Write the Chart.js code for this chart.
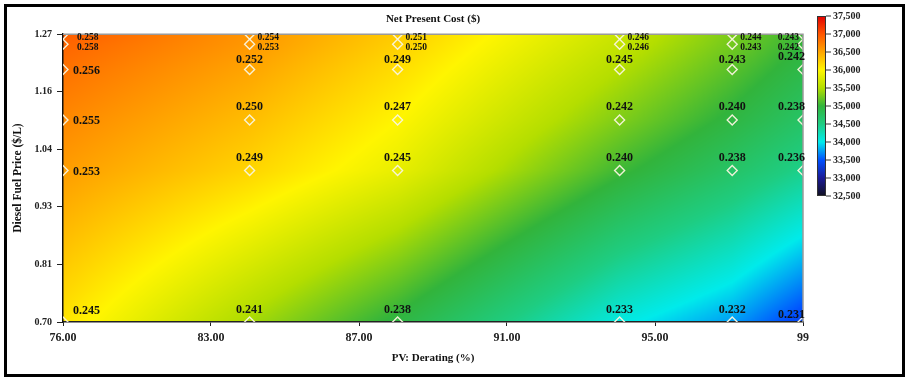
<!DOCTYPE html>
<html><head><meta charset="utf-8">
<script src="https://cdn.jsdelivr.net/npm/chart.js@4.4.0/dist/chart.umd.min.js"></script>
<style>html,body{margin:0;padding:0;background:#fff;}#wrap{width:906px;height:378px;}</style>
</head><body><div id="wrap"><canvas id="c" width="906" height="378"></canvas></div>
<script>
// ---- data ----
const deratingTickLabels = ["76.00", "83.00", "87.00", "91.00", "95.00", "99"];
const fuelTickLabels = ["0.70", "0.81", "0.93", "1.04", "1.16", "1.27"];
const derating = [76, 81.8, 86.4, 93.3, 96.8, 99];          // PV derating (%) of sensitivity columns
const fuelPrice = [0.70, 1.00, 1.10, 1.20, 1.25, 1.27];      // diesel price ($/L), rows
// COE labels per row (fuelPrice order), per column (derating order)
const coe070 = ["0.245", "0.241", "0.238", "0.233", "0.232", "0.231"];
const coe100 = ["0.253", "0.249", "0.245", "0.240", "0.238", "0.236"];
const coe110 = ["0.255", "0.250", "0.247", "0.242", "0.240", "0.238"];
const coe120 = ["0.256", "0.252", "0.249", "0.245", "0.243", "0.242"];
const coe125 = ["0.258", "0.253", "0.250", "0.246", "0.243", "0.242"];
const coe127 = ["0.258", "0.254", "0.251", "0.246", "0.244", "0.243"];
// Net present cost ($) at the same grid points
const npc070 = [36100, 35450, 34950, 34050, 33750, 33400];
const npc100 = [36550, 36200, 35850, 35050, 34700, 34450];
const npc110 = [36680, 36350, 36000, 35300, 34950, 34700];
const npc120 = [36820, 36500, 36150, 35500, 35150, 34900];
const npc125 = [36900, 36580, 36230, 35600, 35250, 35000];
const npc127 = [36950, 36600, 36260, 35640, 35280, 35030];
const colorbarTicks = [32500, 33000, 33500, 34000, 34500, 35000, 35500, 36000, 36500, 37000, 37500];

const coeRows = [coe070, coe100, coe110, coe120, coe125, coe127];
const npcRows = [npc070, npc100, npc110, npc120, npc125, npc127];

// ---- colour map ----
const cmapStops = [
  [32500, [16, 16, 32]], [33000, [26, 26, 150]], [33500, [0, 80, 255]], [34000, [0, 235, 235]],
  [34500, [30, 205, 130]], [35000, [50, 180, 60]], [35500, [180, 222, 0]], [36000, [255, 245, 0]],
  [36500, [255, 165, 0]], [37000, [255, 85, 0]], [37500, [225, 0, 0]]
];
function cmap(v) {
  if (v <= cmapStops[0][0]) return cmapStops[0][1];
  for (let i = 1; i < cmapStops.length; i++) {
    if (v <= cmapStops[i][0]) {
      const a = cmapStops[i - 1], b = cmapStops[i];
      const t = (v - a[0]) / (b[0] - a[0]);
      return [0, 1, 2].map(k => a[1][k] + t * (b[1][k] - a[1][k]));
    }
  }
  return cmapStops[cmapStops.length - 1][1];
}
function seg(arr, v) {
  let i = 0;
  while (i < arr.length - 2 && v > arr[i + 1]) i++;
  let t = (v - arr[i]) / (arr[i + 1] - arr[i]);
  return [i, Math.max(0, Math.min(1, t))];
}
function npcAt(xv, yv) {
  const [i, tx] = seg(derating, xv);
  const [j, ty] = seg(fuelPrice, yv);
  const a = npcRows[j][i], b = npcRows[j][i + 1], c = npcRows[j + 1][i], d = npcRows[j + 1][i + 1];
  const top = a + tx * (b - a), bot = c + tx * (d - c);
  return top + ty * (bot - top);
}

const SERIF = '"Liberation Serif", "Times New Roman", serif';
const points = [];
fuelPrice.forEach((fp, j) => derating.forEach((d, i) => points.push({ x: d, y: fp, i, j })));

const surfacePlugin = {
  id: 'surface',
  beforeDraw(chart) {
    const { ctx, chartArea: a, scales: { x, y } } = chart;
    ctx.save();
    ctx.fillStyle = '#fff';
    ctx.fillRect(0, 0, chart.width, chart.height);
    const w = Math.round(a.right - a.left), h = Math.round(a.bottom - a.top);
    const off = document.createElement('canvas');
    off.width = w; off.height = h;
    const octx = off.getContext('2d');
    const img = octx.createImageData(w, h);
    for (let py = 0; py < h; py++) {
      const yv = y.getValueForPixel(a.top + py + 0.5);
      for (let px = 0; px < w; px++) {
        const xv = x.getValueForPixel(a.left + px + 0.5);
        const c = cmap(npcAt(xv, yv));
        const k = (py * w + px) * 4;
        img.data[k] = c[0]; img.data[k + 1] = c[1]; img.data[k + 2] = c[2]; img.data[k + 3] = 255;
      }
    }
    octx.putImageData(img, 0, 0);
    ctx.drawImage(off, a.left, a.top);
    ctx.restore();
  },
  afterDatasetsDraw(chart) {
    const { ctx, chartArea: a, scales: { x, y } } = chart;
    ctx.save();
    // top / right frame of plot
    ctx.strokeStyle = '#9a9a9a';
    ctx.lineWidth = 1.5;
    ctx.beginPath();
    ctx.moveTo(a.left, a.top); ctx.lineTo(a.right, a.top); ctx.lineTo(a.right, a.bottom);
    ctx.stroke();
    // labels
    ctx.fillStyle = '#111';
    const last = derating.length - 1;
    points.forEach(p => {
      const px = x.getPixelForValue(p.x), py = y.getPixelForValue(p.y);
      const txt = coeRows[p.j][p.i];
      const topRows = p.j >= 4;
      ctx.font = 'bold ' + (topRows ? 9.5 : 12) + 'px ' + SERIF;
      ctx.textBaseline = 'middle';
      let tx, ty, al;
      if (topRows) {
        if (p.i === last) { al = 'right'; tx = px - 4; } else { al = 'left'; tx = px + (p.i === 0 ? 14 : 8); }
        ty = py + 3;
      } else if (p.i === 0) {
        al = 'left'; tx = px + 10; ty = p.j === 0 ? py - 11 : py + 1;
      } else if (p.i === last) {
        al = 'right'; tx = px + 2; ty = p.j === 0 ? py - 7 : py - 13;
      } else {
        al = 'center'; tx = px; ty = p.j === 0 ? py - 12 : (p.j === 3 ? py - 10 : py - 13);
      }
      ctx.textAlign = al;
      ctx.fillText(txt, tx, ty);
    });
    ctx.restore();
  },
  afterDraw(chart) {
    const { ctx } = chart;
    ctx.save();
    // colour bar
    const bx = 817, bw = 9, yTop = 16, yBot = 196;
    const vmin = colorbarTicks[0], vmax = colorbarTicks[colorbarTicks.length - 1];
    const g = ctx.createLinearGradient(0, yBot, 0, yTop);
    cmapStops.forEach(s => {
      const c = s[1];
      g.addColorStop((s[0] - vmin) / (vmax - vmin), 'rgb(' + c.map(Math.round).join(',') + ')');
    });
    ctx.fillStyle = g;
    ctx.fillRect(bx, yTop, bw, yBot - yTop);
    ctx.strokeStyle = '#333';
    ctx.lineWidth = 1;
    ctx.strokeRect(bx + 0.5, yTop + 0.5, bw - 1, yBot - yTop - 1);
    ctx.font = 'bold 10px ' + SERIF;
    ctx.fillStyle = '#222';
    ctx.textAlign = 'left';
    ctx.textBaseline = 'middle';
    colorbarTicks.forEach(v => {
      const ty = yBot - (v - vmin) / (vmax - vmin) * (yBot - yTop);
      ctx.beginPath();
      ctx.moveTo(bx + bw, ty); ctx.lineTo(bx + bw + 5, ty);
      ctx.stroke();
      ctx.fillText(v.toLocaleString('en-US'), bx + bw + 7, ty);
    });
    // outer frame
    ctx.strokeStyle = '#000';
    ctx.lineWidth = 3;
    ctx.strokeRect(5.5, 5.5, 898, 370);
    ctx.restore();
  }
};

const xMin = 76, xMax = 99, yMin = 0.70, yMax = 1.27;

new Chart(document.getElementById('c'), {
  type: 'scatter',
  data: {
    datasets: [{
      data: points,
      pointStyle: 'rectRot',
      pointRadius: 5,
      pointHoverRadius: 5,
      borderColor: 'rgba(248,244,222,0.95)',
      backgroundColor: 'rgba(0,0,0,0)',
      borderWidth: 1.4,
      clip: 0
    }]
  },
  options: {
    responsive: false,
    animation: false,
    devicePixelRatio: 1,
    layout: { padding: { left: 0, right: 103, top: 0, bottom: 0 } },
    plugins: {
      legend: { display: false },
      tooltip: { enabled: false },
      title: {
        display: true, text: 'Net Present Cost ($)', fullSize: false,
        color: '#111', font: { family: SERIF, size: 11, weight: 'bold' },
        padding: { top: 13, bottom: 8 }
      }
    },
    scales: {
      x: {
        type: 'linear', min: xMin, max: xMax,
        afterBuildTicks: s => { s.ticks = deratingTickLabels.map((l, i) => ({ value: xMin + i * (xMax - xMin) / (deratingTickLabels.length - 1) })); },
        afterFit: s => { s.height = 56; },
        ticks: {
          autoSkip: false, maxRotation: 0, padding: 5, color: '#222',
          font: { family: SERIF, size: 12, weight: 'bold' },
          callback: (v, i) => deratingTickLabels[i]
        },
        grid: { drawOnChartArea: false, drawTicks: true, tickLength: 4, color: '#222' },
        border: { display: true, color: '#222', width: 1.5 },
        title: {
          display: true, text: 'PV: Derating (%)', color: '#111',
          font: { family: SERIF, size: 11, weight: 'bold' },
          padding: { top: 0, bottom: 13.4 }
        }
      },
      y: {
        type: 'linear', min: yMin, max: yMax,
        afterBuildTicks: s => { s.ticks = fuelTickLabels.map((l, i) => ({ value: yMin + i * (yMax - yMin) / (fuelTickLabels.length - 1) })); },
        afterFit: s => { s.width = 63; },
        ticks: {
          autoSkip: false, padding: 5, color: '#222',
          font: { family: SERIF, size: 10, weight: 'bold' },
          callback: (v, i) => fuelTickLabels[i]
        },
        grid: { drawOnChartArea: false, drawTicks: true, tickLength: 6, color: '#222' },
        border: { display: true, color: '#111', width: 1.5 },
        title: {
          display: true, text: 'Diesel Fuel Price ($/L)', color: '#111',
          font: { family: SERIF, size: 11.5, weight: 'bold' },
          padding: { top: 11, bottom: 0 }
        }
      }
    }
  },
  plugins: [surfacePlugin]
});
</script></body></html>
